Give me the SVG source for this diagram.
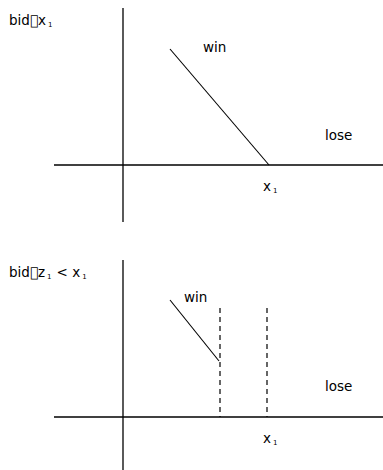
<svg xmlns="http://www.w3.org/2000/svg" width="383" height="470" viewBox="0 0 383 470">
<style>
text{font-family:"DejaVu Sans",sans-serif;font-size:13.5px;fill:#000}
.s{font-size:7px}
.ax{stroke:#000;stroke-width:1.3;fill:none}
.ln{stroke:#000;stroke-width:1.1;fill:none}
.d{stroke:#000;stroke-width:1.2;stroke-dasharray:5,4;fill:none}
</style>
<rect width="383" height="470" fill="#fff"/>
<g id="connectors">
<line class="ax" x1="123" y1="8" x2="123" y2="222"/>
<line class="ax" x1="54" y1="165" x2="383" y2="165"/>
<line class="ln" x1="170" y1="49" x2="269" y2="165"/>
<line class="ax" x1="123" y1="260" x2="123" y2="470"/>
<line class="ax" x1="54" y1="417" x2="383" y2="417"/>
<line class="ln" x1="170" y1="300" x2="219" y2="361"/>
<line class="d" x1="220" y1="308" x2="220" y2="417"/>
<line class="d" x1="267" y1="308" x2="267" y2="417"/>
</g>
<g id="title1"><text x="9" y="25">bid&#xF0B3;x<tspan class="s" dx="2" dy="2">1</tspan></text></g>
<g id="win1"><text x="203" y="52">win</text></g>
<g id="lose1"><text x="325" y="140">lose</text></g>
<g id="x1a"><text x="263" y="191">x<tspan class="s" dx="2" dy="2">1</tspan></text></g>
<g id="title2"><text x="9" y="277">bid&#xF0B3;z<tspan class="s" dx="2" dy="2">1</tspan><tspan dx="5" dy="-2">&lt; x</tspan><tspan class="s" dx="2" dy="2">1</tspan></text></g>
<g id="win2"><text x="184" y="302">win</text></g>
<g id="lose2"><text x="325" y="391">lose</text></g>
<g id="x1b"><text x="263" y="443">x<tspan class="s" dx="2" dy="2">1</tspan></text></g>
</svg>
